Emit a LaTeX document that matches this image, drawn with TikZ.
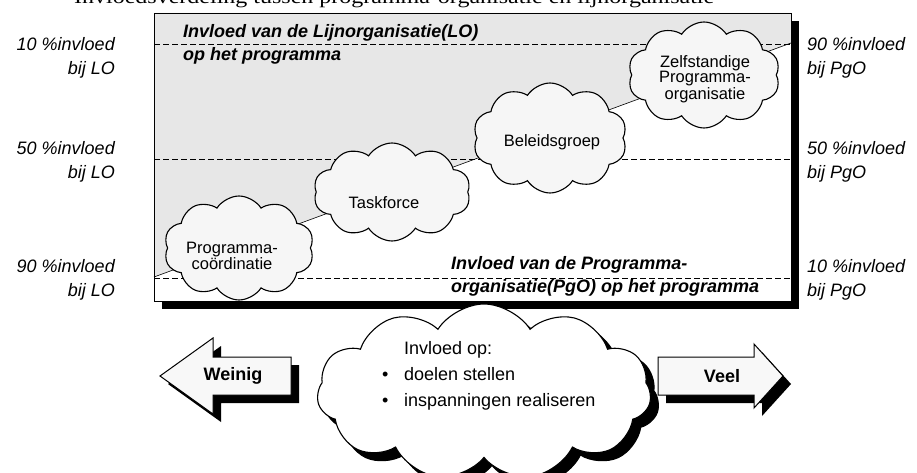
\documentclass[tikz,border=0pt]{standalone}
\usepackage{fontspec}
\setmainfont{Liberation Sans}
\newfontfamily\serifhead{Liberation Serif}
\usepackage{graphicx}
\usetikzlibrary{shapes.symbols}
\definecolor{boxgray}{HTML}{E7E7E7}
\definecolor{cloudfill}{HTML}{F6F6F6}
\definecolor{arrowfill}{HTML}{F8F8F8}
\begin{document}
\begin{tikzpicture}[x=1pt,y=-1pt,
  lbl/.style={font=\fontsize{18}{24}\selectfont\itshape, inner sep=0pt},
  ttl/.style={font=\fontsize{18}{23}\selectfont\bfseries\itshape, inner sep=0pt, align=left, anchor=west},
  blob/.style={cloud, cloud puffs=10, cloud puff arc=115, draw, line width=1.1pt, fill=cloudfill, inner sep=0pt},
  blobshadow/.style={cloud, cloud puffs=11, cloud puff arc=115, draw=black, line width=1.1pt, fill=black, inner sep=0pt},
  ctext/.style={font=\fontsize{16.5}{13.5}\selectfont, align=center, inner sep=0pt},
  dashline/.style={dash pattern=on 6pt off 3pt, line width=0.8pt},
  arrowbox/.style={draw=black, line width=1pt, fill=arrowfill},
  arrowtext/.style={font=\fontsize{18}{22}\selectfont\bfseries, inner sep=0pt},
]
\path[use as bounding box] (0,0) rectangle (917,473);
\clip (0,0) rectangle (917,473);

% cut-off header line
\node[anchor=base west, inner sep=0pt, font=\serifhead\fontsize{20}{24}\selectfont] (head) at (74,3.5)
  {\resizebox{640pt}{\height}{Invloedsverdeling tussen programma-organisatie en lijnorganisatie}};

% main box with shadow
\fill[black] (162,21) rectangle (799,309);
\fill[white] (154,13) rectangle (791,301);
\fill[boxgray] (154,13) -- (791,13) -- (791,43) -- (154,277) -- cycle;
\draw[dashline] (154,44) -- (791,44);
\draw[dashline] (154,159) -- (791,159);
\draw[dashline] (154,278) -- (791,278);
\coordinate (dA) at (154,277);
\coordinate (dB) at (791,43);
\draw[line width=0.6pt] (dA) -- (dB);
\draw[line width=0.9pt] (154,13) rectangle (791,301);

% clouds in the box
\node[blob, minimum width=150pt, minimum height=104pt, aspect=1.44] (c1) at (239,248) {};
\node[ctext] (t1) at (232,256) {Programma-\\coördinatie};
\node[blob, minimum width=157pt, minimum height=98pt, aspect=1.6] (c2) at (392,192) {};
\node[ctext] (t2) at (384,203) {Taskforce};
\node[blob, minimum width=154pt, minimum height=110pt, aspect=1.4] (c3) at (550,138) {};
\node[ctext] (t3) at (552,142) {Beleidsgroep};
\node[blob, minimum width=152pt, minimum height=106pt, aspect=1.43] (c4) at (704,75) {};
\node[ctext] (t4) at (705,79) {Zelfstandige\\Programma-\\organisatie};

% titles inside the box
\node[ttl] (tt) at (183,44) {Invloed van de Lijnorganisatie(LO)\\op het programma};
\node[ttl] (bt) at (451,276) {Invloed van de Programma-\\organisatie(PgO) op het programma};

% side labels
\node[lbl, align=right, anchor=east] (l1) at (115,58) {10 \%invloed\\bij LO};
\node[lbl, align=right, anchor=east] (l2) at (115,162) {50 \%invloed\\bij LO};
\node[lbl, align=right, anchor=east] (l3) at (115,280) {90 \%invloed\\bij LO};
\node[lbl, align=left, anchor=west] (r1) at (807,58) {90 \%invloed\\bij PgO};
\node[lbl, align=left, anchor=west] (r2) at (807,162) {50 \%invloed\\bij PgO};
\node[lbl, align=left, anchor=west] (r3) at (807,280) {10 \%invloed\\bij PgO};

% left arrow "Weinig"
\fill[black, shift={(8,8)}] (160,376) -- (213,338) -- (213,357) -- (291,357) -- (291,395) -- (213,395) -- (213,414) -- cycle;
\draw[arrowbox] (160,376) -- (213,338) -- (213,357) -- (291,357) -- (291,395) -- (213,395) -- (213,414) -- cycle;
\node[arrowtext] (weinig) at (233,376) {Weinig};

% right arrow "Veel"
\fill[black, shift={(8,8)}] (658,357) -- (754,357) -- (754,344) -- (783,376) -- (754,408) -- (754,395) -- (658,395) -- cycle;
\draw[arrowbox] (658,357) -- (754,357) -- (754,344) -- (783,376) -- (754,408) -- (754,395) -- (658,395) -- cycle;
\node[arrowtext] (veel) at (722,376) {Veel};

% central cloud with shadow
\node[blobshadow, minimum width=334pt, minimum height=176pt, aspect=1.9] (cs) at (492,400) {};
\node[blob, cloud puffs=11, fill=white, minimum width=334pt, minimum height=176pt, aspect=1.9] (cc) at (484,392) {};
\node[anchor=west, align=left, inner sep=0pt, font=\fontsize{18}{26}\selectfont] (ct) at (382,376)
  {\hspace*{22pt}Invloed op:\\\makebox[22pt][l]{•}doelen stellen\\\makebox[22pt][l]{•}inspanningen realiseren};
\end{tikzpicture}
\end{document}
